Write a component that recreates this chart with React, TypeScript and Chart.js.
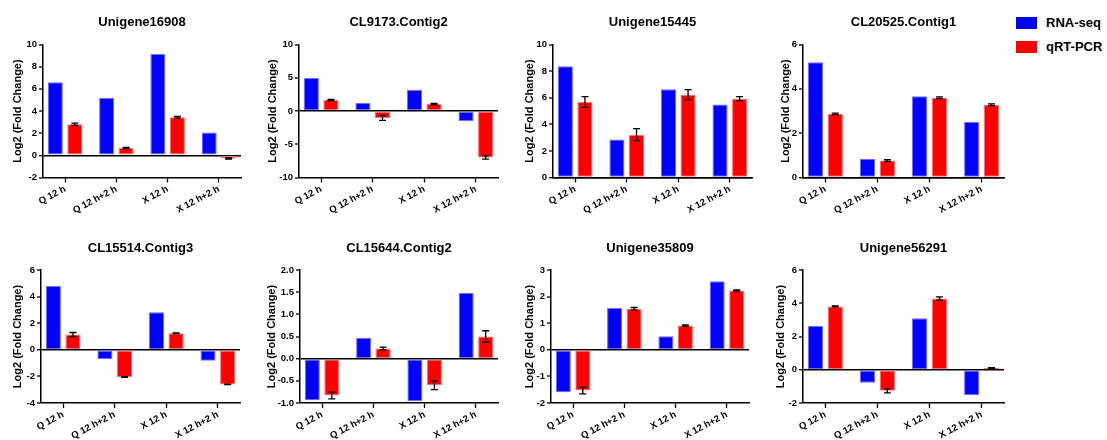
import React, { useEffect, useRef } from 'react';
import { Chart, registerables } from 'chart.js';

Chart.register(...registerables);

// ---------------- data ----------------
const categories = ['Q 12 h', 'Q 12 h+2 h', 'X 12 h', 'X 12 h+2 h'];
const seriesNames = ['RNA-seq', 'qRT-PCR'];
const geneTitles = [
  'Unigene16908', 'CL9173.Contig2', 'Unigene15445', 'CL20525.Contig1',
  'CL15514.Contig3', 'CL15644.Contig2', 'Unigene35809', 'Unigene56291',
];
const yAxisTitle = 'Log2 (Fold Change)';

const rnaUnigene16908 = [6.6, 5.2, 9.15, 2.05];
const pcrUnigene16908 = [2.8, 0.66, 3.44, -0.28];
const errUnigene16908 = [0.1, 0.05, 0.08, 0.05];

const rnaCL9173 = [4.95, 1.2, 3.2, -1.5];
const pcrCL9173 = [1.65, -1.05, 1.05, -7.0];
const errCL9173 = [0.1, 0.35, 0.1, 0.25];

const rnaUnigene15445 = [8.37, 2.86, 6.63, 5.48];
const pcrUnigene15445 = [5.68, 3.22, 6.23, 5.93];
const errUnigene15445 = [0.4, 0.45, 0.38, 0.15];

const rnaCL20525 = [5.2, 0.83, 3.67, 2.52];
const pcrCL20525 = [2.87, 0.77, 3.6, 3.28];
const errCL20525 = [0.03, 0.04, 0.04, 0.04];

const rnaCL15514 = [4.8, -0.7, 2.83, -0.83];
const pcrCL15514 = [1.15, -2.05, 1.25, -2.6];
const errCL15514 = [0.15, 0.03, 0.03, 0.02];

const rnaCL15644 = [-0.94, 0.47, -0.96, 1.48];
const pcrCL15644 = [-0.83, 0.23, -0.6, 0.5];
const errCL15644 = [0.075, 0.03, 0.1, 0.13];

const rnaUnigene35809 = [-1.6, 1.57, 0.51, 2.58];
const pcrUnigene35809 = [-1.53, 1.54, 0.91, 2.23];
const errUnigene35809 = [0.13, 0.05, 0.03, 0.02];

const rnaUnigene56291 = [2.64, -0.78, 3.1, -1.54];
const pcrUnigene56291 = [3.81, -1.27, 4.28, 0.11];
const errUnigene56291 = [0.03, 0.12, 0.1, 0.02];

const yMins = [-2, -10, 0, 0, -4, -1, -2, -2];
const yMaxs = [10, 10, 10, 6, 6, 2, 3, 6];
const ySteps = [2, 5, 2, 2, 2, 0.5, 1, 2];
const yDecimals = [0, 0, 0, 0, 0, 1, 0, 0];

const rnaSeries = [rnaUnigene16908, rnaCL9173, rnaUnigene15445, rnaCL20525, rnaCL15514, rnaCL15644, rnaUnigene35809, rnaUnigene56291];
const pcrSeries = [pcrUnigene16908, pcrCL9173, pcrUnigene15445, pcrCL20525, pcrCL15514, pcrCL15644, pcrUnigene35809, pcrUnigene56291];
const errSeries = [errUnigene16908, errCL9173, errUnigene15445, errCL20525, errCL15514, errCL15644, errUnigene35809, errUnigene56291];

// ---------------- layout ----------------
const axisXs = [43, 299, 553, 803, 41, 300, 551, 803];
const rightXs = [241, 498, 752, 1004, 240, 498, 749, 1004];
const titleGaps = [25, 26, 23, 17, 23, 28, 21, 22];
const Y_W = 36;
const ROW_H = 220;

const BLUE = '#0000ff';
const RED = '#ff0000';
const FONT = "'Liberation Sans', Arial, sans-serif";

const errorBarPlugin = {
  id: 'errorBars',
  afterDatasetsDraw(chart: any) {
    const ds = chart.data.datasets[1];
    const errs: number[] = ds.errors || [];
    const meta = chart.getDatasetMeta(1);
    const ys = chart.scales.y;
    const ctx = chart.ctx;
    ctx.save();
    ctx.strokeStyle = '#000';
    ctx.lineWidth = 1.3;
    meta.data.forEach((bar: any, i: number) => {
      const v = ds.data[i];
      const e = errs[i];
      const x = bar.x;
      const y1 = ys.getPixelForValue(v - e);
      const y2 = ys.getPixelForValue(v + e);
      ctx.beginPath();
      ctx.moveTo(x, y1); ctx.lineTo(x, y2);
      ctx.moveTo(x - 3.5, y1); ctx.lineTo(x + 3.5, y1);
      ctx.moveTo(x - 3.5, y2); ctx.lineTo(x + 3.5, y2);
      ctx.stroke();
    });
    ctx.restore();
  },
};

function Panel({ idx }: { idx: number }) {
  const ref = useRef<HTMLCanvasElement | null>(null);
  const row = idx < 4 ? 0 : 1;
  const left = axisXs[idx] - Y_W;
  const width = rightXs[idx] - left + 2;
  const height = ROW_H;
  const top = row * ROW_H;

  useEffect(() => {
    if (!ref.current) return;
    const titlePadTop = row === 0 ? 15 : 21;
    const titlePadBottom = row === 0 ? 13.9 : 13.4;
    const xHeight = row === 0 ? 42.5 : 37;
    const dec = yDecimals[idx];
    const chart = new Chart(ref.current, {
      type: 'bar',
      data: {
        labels: categories,
        datasets: [
          {
            label: seriesNames[0],
            data: rnaSeries[idx],
            backgroundColor: BLUE,
            borderColor: '#7070ff',
            borderWidth: 1,
            borderSkipped: false,
            barPercentage: 0.77,
            categoryPercentage: 0.76,
          },
          {
            label: seriesNames[1],
            data: pcrSeries[idx],
            errors: errSeries[idx],
            backgroundColor: RED,
            borderColor: '#ff7070',
            borderWidth: 1,
            borderSkipped: false,
            barPercentage: 0.77,
            categoryPercentage: 0.76,
          } as any,
        ],
      },
      options: {
        animation: false,
        responsive: false,
        maintainAspectRatio: false,
        layout: { padding: { left: 0, right: 2, top: 0, bottom: 0 } },
        plugins: {
          legend: { display: false },
          tooltip: { enabled: false },
          title: {
            display: true,
            text: geneTitles[idx],
            fullSize: false,
            color: '#000',
            font: { family: FONT, size: 13, weight: 'bold' },
            padding: { top: titlePadTop, bottom: titlePadBottom },
          },
        },
        scales: {
          x: {
            type: 'category',
            offset: true,
            afterBuildTicks: (s: any) => {
              s._startValue = -0.43;
              s._valueRange = 3.86;
            },
            afterFit: (s: any) => { s.height = xHeight; },
            grid: {
              display: true,
              drawOnChartArea: false,
              drawTicks: true,
              offset: false,
              tickLength: 5,
              tickColor: '#000',
              tickWidth: 1.3,
            },
            border: { display: true, color: '#000', width: 1.5 },
            ticks: {
              autoSkip: false,
              minRotation: 28,
              maxRotation: 28,
              padding: 1,
              color: '#000',
              font: { family: FONT, size: 9.5, weight: 'bold' },
            },
          },
          y: {
            min: yMins[idx],
            max: yMaxs[idx],
            afterFit: (s: any) => { s.width = Y_W; },
            grid: {
              drawOnChartArea: true,
              drawTicks: true,
              tickLength: 4,
              tickColor: '#000',
              tickWidth: 1.3,
              color: (c: any) => (c.tick && c.tick.value === 0 ? '#000' : 'rgba(0,0,0,0)'),
              lineWidth: (c: any) => (c.tick && c.tick.value === 0 ? 1.5 : 0),
            },
            border: { display: true, color: '#000', width: 1.5 },
            ticks: {
              stepSize: ySteps[idx],
              padding: 2,
              color: '#000',
              font: { family: FONT, size: 9.5, weight: 'bold' },
              callback: (v: any) => Number(v).toFixed(dec),
            },
            title: {
              display: true,
              text: yAxisTitle,
              color: '#000',
              font: { family: FONT, size: 11, weight: 'bold' },
              padding: { top: Math.max(0, Y_W - titleGaps[idx] - 6.6), bottom: 0 },
            },
          },
        },
      },
      plugins: [errorBarPlugin],
    } as any);
    return () => chart.destroy();
  }, [idx]);

  return (
    <canvas
      ref={ref}
      width={width}
      height={height}
      style={{ position: 'absolute', left, top, width, height }}
    />
  );
}

const legendItems = [
  { label: seriesNames[0], color: BLUE, top: 17 },
  { label: seriesNames[1], color: RED, top: 41 },
];

export default function App() {
  return (
    <div
      style={{
        position: 'fixed', left: 0, top: 0, width: 1107, height: 440,
        background: '#fff', overflow: 'hidden',
      }}
    >
      {geneTitles.map((_, i) => <Panel key={i} idx={i} />)}
      {legendItems.map((it) => (
        <div key={it.label}>
          <div style={{ position: 'absolute', left: 1016, top: it.top, width: 21, height: 12, background: it.color }} />
          <div
            style={{
              position: 'absolute', left: 1046, top: it.top - 2, height: 16, lineHeight: '16px',
              fontFamily: FONT, fontWeight: 'bold', fontSize: 13, color: '#000', whiteSpace: 'nowrap',
            }}
          >
            {it.label}
          </div>
        </div>
      ))}
    </div>
  );
}
